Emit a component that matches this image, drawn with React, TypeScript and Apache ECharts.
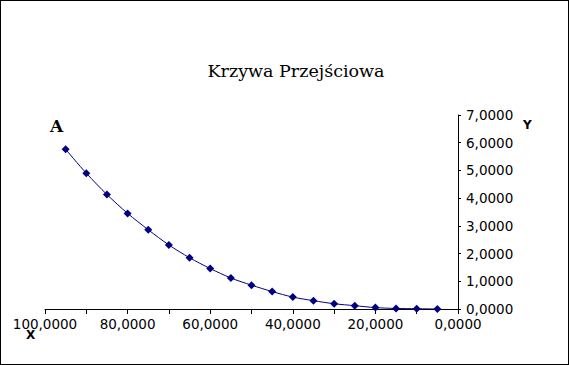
import React, { useEffect, useRef } from "react";
import * as echarts from "echarts";

const xValues = [95, 90, 85, 80, 75, 70, 65, 60, 55, 50, 45, 40, 35, 30, 25, 20, 15, 10, 5];
const yValues = [5.76, 4.9, 4.13, 3.45, 2.86, 2.31, 1.85, 1.46, 1.12, 0.86, 0.63, 0.43, 0.3, 0.19, 0.12, 0.05, 0.02, 0.01, 0.0];
const titleText = "Krzywa Przejściowa";

const fmt = (v: number) => v.toFixed(4).replace(".", ",");

export default function App() {
  const ref = useRef<HTMLDivElement>(null);
  useEffect(() => {
    document.body.style.margin = "0";
    const chart = echarts.init(ref.current!, null, { renderer: "svg" });
    chart.setOption({
      animation: false,
      backgroundColor: "#ffffff",
      title: {
        text: titleText,
        left: 290,
        top: 56,
        textAlign: "center",
        textStyle: { fontFamily: "DejaVu Serif", fontSize: 17.5, fontWeight: "normal", color: "#000" },
      },
      graphic: [
        { type: "text", left: 49, top: 116, style: { text: "A", font: "bold 17px 'DejaVu Serif'", fill: "#000" } },
        { type: "text", left: 522, top: 118, style: { text: "Y", font: "bold 12px 'DejaVu Sans'", fill: "#000" } },
        { type: "text", left: 25, top: 328, style: { text: "X", font: "bold 12px 'DejaVu Sans'", fill: "#000" } },
      ],
      grid: { left: 44, right: 110, top: 114, bottom: 55, containLabel: false },
      xAxis: {
        type: "value",
        inverse: true,
        min: 0,
        max: 100,
        interval: 10,
        splitLine: { show: false },
        axisLine: { onZero: false, lineStyle: { color: "#000", width: 1 } },
        axisTick: { inside: false, length: 5, lineStyle: { color: "#000" } },
        axisLabel: {
          formatter: (v: number) => (Math.round(v) % 20 === 0 ? fmt(v) : ""),
          fontFamily: "DejaVu Sans",
          fontSize: 13.5,
          color: "#000",
          margin: 8,
          showMinLabel: true,
          showMaxLabel: true,
        },
      },
      yAxis: {
        type: "value",
        position: "right",
        min: 0,
        max: 7,
        interval: 1,
        splitLine: { show: false },
        axisLine: { show: true, onZero: false, lineStyle: { color: "#000", width: 1 } },
        axisTick: { show: true, inside: false, length: 3, lineStyle: { color: "#000" } },
        axisLabel: {
          formatter: (v: number) => fmt(v),
          fontFamily: "DejaVu Sans",
          fontSize: 13.5,
          color: "#000",
          margin: 8,
        },
      },
      series: [
        {
          type: "line",
          data: xValues.map((x, i) => [x, yValues[i]]),
          symbol: "diamond",
          symbolSize: 8,
          smooth: 0.3,
          lineStyle: { color: "#000080", width: 1 },
          itemStyle: { color: "#000080" },
        },
      ],
    });
    return () => chart.dispose();
  }, []);
  return (
    <div
      style={{
        position: "absolute",
        left: 0,
        top: 0,
        width: 569,
        height: 365,
        border: "1px solid #000",
        boxSizing: "border-box",
        background: "#fff",
      }}
    >
      <div ref={ref} style={{ width: 567, height: 363 }} />
    </div>
  );
}
